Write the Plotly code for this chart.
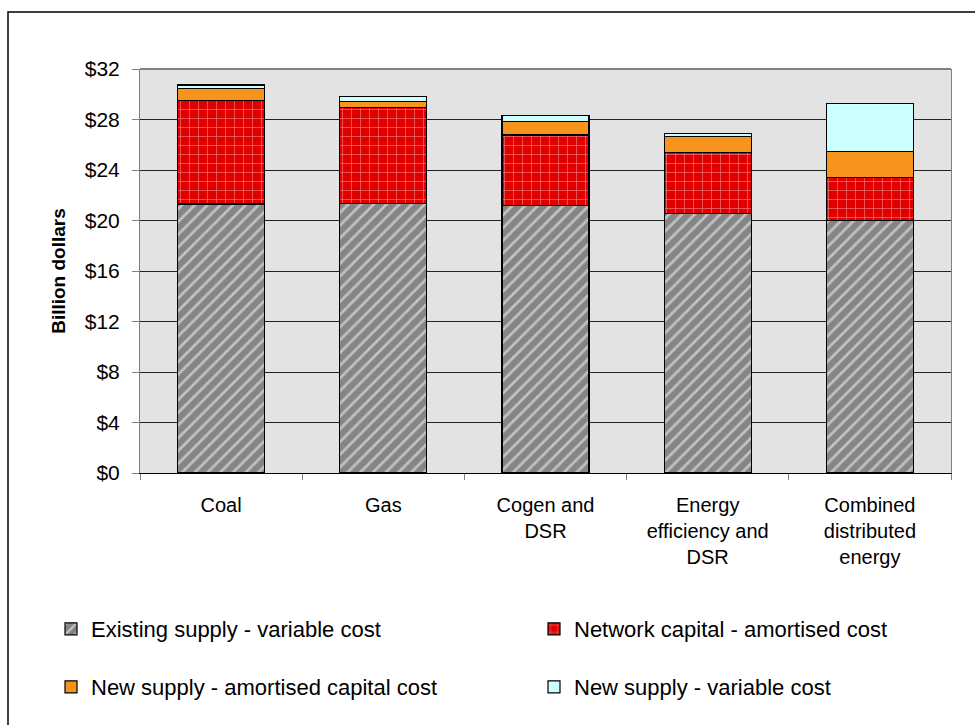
import plotly.graph_objects as go

# Scenario categories (x axis)
categories = ["Coal", "Gas", "Cogen and<br>DSR", "Energy<br>efficiency and<br>DSR",
              "Combined<br>distributed<br>energy"]

# Cost components, billion dollars
existing_variable = [21.3, 21.35, 21.2, 20.55, 20.0]
network_capital = [8.2, 7.6, 5.57, 4.83, 3.38]
new_capital = [0.98, 0.5, 1.09, 1.3, 2.06]
new_variable = [0.26, 0.36, 0.44, 0.23, 3.83]

y_ticks = [0, 4, 8, 12, 16, 20, 24, 28, 32]
y_tick_labels = ["$0", "$4", "$8", "$12", "$16", "$20", "$24", "$28", "$32"]

FONT = "Liberation Sans, Arial, sans-serif"
EDGE = dict(color="black", width=1.2)

fig = go.Figure()

fig.add_trace(go.Bar(
    x=categories, y=existing_variable, name="Existing supply - variable cost",
    marker=dict(color="#858585", line=EDGE,
                pattern=dict(shape="/", bgcolor="#858585", fgcolor="white",
                             size=9, solidity=0.3, fillmode="overlay")),
    legend="legend",
))
fig.add_trace(go.Bar(
    x=categories, y=network_capital, name="Network capital - amortised cost",
    marker=dict(color="#E00000", line=EDGE,
                pattern=dict(shape="+", bgcolor="#E00000", fgcolor="#FFE6E6",
                             size=9, solidity=0.15, fillmode="overlay")),
    legend="legend2",
))
fig.add_trace(go.Bar(
    x=categories, y=new_capital, name="New supply - amortised capital cost",
    marker=dict(color="#F7941E", line=EDGE),
    legend="legend3",
))
fig.add_trace(go.Bar(
    x=categories, y=new_variable, name="New supply - variable cost",
    marker=dict(color="#CCFFFF", line=EDGE),
    legend="legend4",
))

W, H = 975, 725
ML, MR, MT, MB = 140, 24, 69, 252
PW, PH = W - ML - MR, H - MT - MB


def px_x(p):
    return (p - ML) / PW


def px_y(p):
    return (H - MB - p) / PH


def legend_at(x_px, y_px):
    return dict(
        orientation="h", xanchor="left", yanchor="middle",
        x=px_x(x_px), y=px_y(y_px),
        font=dict(family=FONT, size=22, color="black"),
        bgcolor="rgba(0,0,0,0)",
        itemclick=False, itemdoubleclick=False,
    )


fig.update_layout(
    width=W, height=H,
    margin=dict(l=ML, r=MR, t=MT, b=MB),
    paper_bgcolor="white",
    plot_bgcolor="#E3E3E3",
    barmode="stack",
    bargap=0.464,
    font=dict(family=FONT, size=20, color="black"),
    showlegend=True,
    legend=legend_at(51, 629),
    legend2=legend_at(534, 629),
    legend3=legend_at(51, 687),
    legend4=legend_at(534, 687),
    xaxis=dict(
        showline=True, linecolor="black", linewidth=1,
        ticks="outside", tickson="boundaries", ticklen=6, tickcolor="#808080",
        tickfont=dict(family=FONT, size=20, color="black"),
        ticklabelstandoff=14,
        showgrid=False,
    ),
    yaxis=dict(
        range=[0, 32], tickvals=y_ticks, ticktext=y_tick_labels,
        showline=True, linecolor="#808080", linewidth=1, mirror=True,
        ticks="outside", ticklen=7, tickcolor="#808080",
        tickfont=dict(family=FONT, size=21, color="black"),
        ticklabelstandoff=8,
        showgrid=True, gridcolor="#222222", gridwidth=1,
        zeroline=False,
        title=dict(text="<b>Billion dollars</b>", standoff=14,
                   font=dict(family=FONT, size=19, color="black")),
    ),
    shapes=[
        # outer chart frame
        dict(type="rect", xref="paper", yref="paper",
             x0=px_x(8), x1=px_x(1040), y0=px_y(780), y1=px_y(12),
             line=dict(color="black", width=1.5), fillcolor="rgba(0,0,0,0)",
             layer="below"),
        # top edge of plot area
        dict(type="line", xref="paper", yref="paper", x0=0, x1=1, y0=1, y1=1,
             line=dict(color="#808080", width=2)),
    ],
)

fig.write_html("out.html")
